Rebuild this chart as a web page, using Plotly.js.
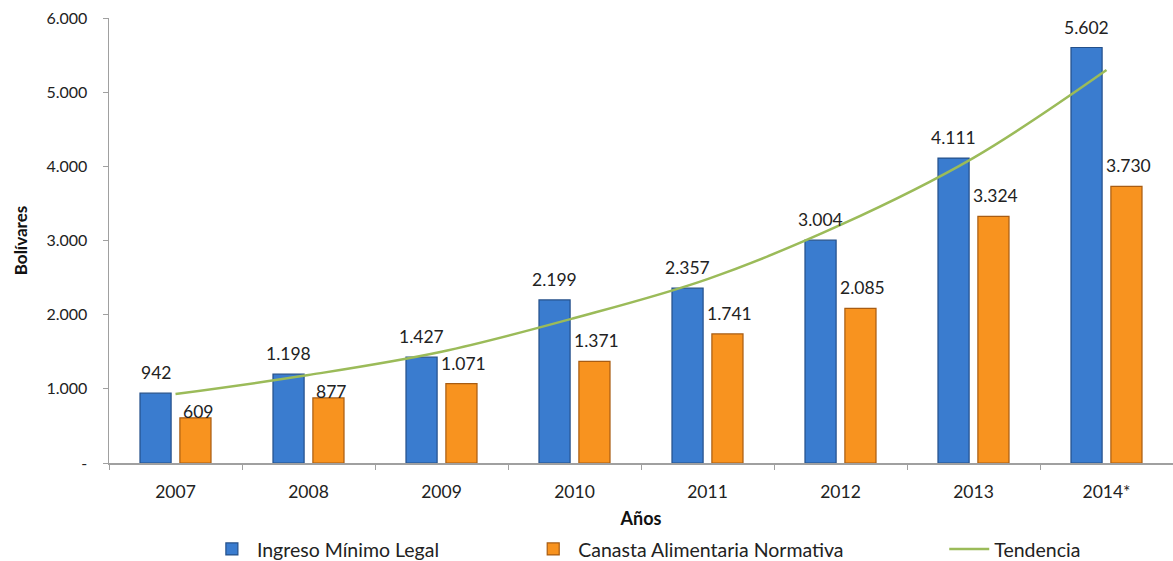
<!DOCTYPE html>
<html><head><meta charset="utf-8">
<script src="https://cdn.plot.ly/plotly-3.0.1.min.js"></script>
<style>html,body{margin:0;padding:0;background:#fff;}#c{width:1173px;height:561px;}</style>
</head><body><div id="c"></div>
<script>
const years = ['2007','2008','2009','2010','2011','2012','2013','2014*'];
const ingreso = [942,1198,1427,2199,2357,3004,4111,5602];
const canasta = [609,877,1071,1371,1741,2085,3324,3730];
const tendencia = [930,1186,1500,1955,2480,3210,4115,5299];
const yTickVals = [0,1000,2000,3000,4000,5000,6000];
const yTickText = ['-','1.000','2.000','3.000','4.000','5.000','6.000'];
const fmt = v => v >= 1000 ? Math.floor(v/1000) + '.' + String(v%1000).padStart(3,'0') : String(v);

const FONT = 'Lato, "Open Sans", sans-serif';
const traces = [
  {type:'bar', name:'Ingreso Mínimo Legal', x:years, y:ingreso, legend:'legend',
   marker:{color:'#3A7CCF', line:{color:'#24508A', width:1.2}}},
  {type:'bar', name:'Canasta Alimentaria Normativa', x:years, y:canasta, legend:'legend2',
   marker:{color:'#F8931F', line:{color:'#A85C12', width:1.2}}},
  {type:'scatter', mode:'lines', name:'Tendencia', x:years, y:tendencia, legend:'legend3',
   line:{color:'#9BBB59', width:2.5, shape:'spline'}}
];
const annotations = [];
ingreso.forEach((v,i)=>annotations.push({x:i, y:v, xref:'x', yref:'y', text:fmt(v), showarrow:false,
  xshift:-20, yanchor:'bottom', yshift:8, font:{size:17.5, color:'#222', family:FONT}}));
canasta.forEach((v,i)=>annotations.push({x:i, y:v, xref:'x', yref:'y', text:fmt(v), showarrow:false,
  xshift:22, yanchor:'bottom', yshift:(i<2?-6:8), font:{size:17.5, color:'#222', family:FONT}}));

const legBase = {orientation:'h', yref:'container', y:0.021, yanchor:'middle', xanchor:'left',
                 font:{size:19.5, family:FONT, color:'#222'}, itemwidth:40, bgcolor:'rgba(0,0,0,0)'};
const layout = {
  width:1173, height:561,
  margin:{l:109, r:0, t:18, b:98},
  paper_bgcolor:'#fff', plot_bgcolor:'#fff',
  font:{family:FONT, size:15, color:'#222'},
  barmode:'group', bargap:0.40, bargroupgap:0.22,
  showlegend:true,
  legend:Object.assign({x:0.092}, legBase),
  legend2:Object.assign({x:0.394}, legBase),
  legend3:Object.assign({x:0.785}, legBase),
  xaxis:{type:'category', showline:true, linecolor:'#A0A0A0', linewidth:1.5,
         ticks:'outside', tickson:'boundaries', ticklen:5, tickcolor:'#A0A0A0',
         tickangle:0, ticklabelstandoff:12,
         tickfont:{size:17.5, family:FONT, color:'#222'},
         title:{text:'<b>Años</b>', font:{size:18, family:FONT, color:'#111'}, standoff:12},
         showgrid:false, zeroline:false},
  yaxis:{range:[0,6000], showline:true, linecolor:'#A0A0A0', linewidth:1.5,
         ticks:'outside', ticklen:5, tickcolor:'#A0A0A0',
         tickvals:yTickVals, ticktext:yTickText, ticklabelstandoff:12,
         tickfont:{size:16, family:FONT, color:'#222'},
         title:{text:'<b>Bolívares</b>', font:{size:17, family:FONT, color:'#111'}, standoff:14},
         showgrid:false, zeroline:false},
  annotations:annotations
};
Plotly.newPlot('c', traces, layout, {displayModeBar:false, staticPlot:true});
</script></body></html>
